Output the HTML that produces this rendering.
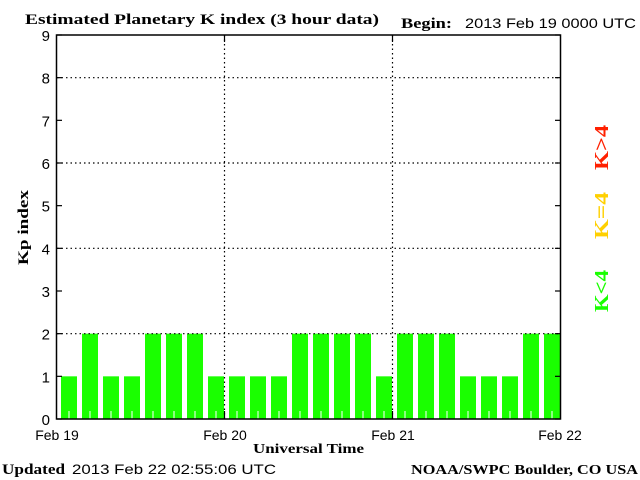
<!DOCTYPE html>
<html><head><style>body{margin:0;background:#fff}svg{display:block}</style></head><body>
<svg width="640" height="480" xmlns="http://www.w3.org/2000/svg">
<rect width="640" height="480" fill="#fff"/>
<text x="25" y="24" font-family="Liberation Serif" font-weight="bold" font-size="15" textLength="354" lengthAdjust="spacingAndGlyphs">Estimated Planetary K index (3 hour data)</text>
<text x="401" y="28" font-family="Liberation Serif" font-weight="bold" font-size="15" textLength="51" lengthAdjust="spacingAndGlyphs">Begin:</text>
<text x="465" y="28" font-family="Liberation Sans" font-size="14" textLength="171" lengthAdjust="spacingAndGlyphs">2013 Feb 19 0000 UTC</text>
<g id="bars" fill="#1aff00"></g>
<g stroke="#000" stroke-width="1.2" stroke-dasharray="1.5,3" fill="none">
<line x1="57" y1="77.7" x2="560" y2="77.7"/><line x1="57" y1="163" x2="560" y2="163"/>
<line x1="57" y1="248.3" x2="560" y2="248.3"/><line x1="57" y1="333.7" x2="560" y2="333.7"/>
<line x1="224.5" y1="35" x2="224.5" y2="419"/><line x1="392.5" y1="35" x2="392.5" y2="419"/>
</g>
<g id="ticks" stroke="#000" stroke-width="1.2"></g>
<rect x="56.5" y="35" width="504" height="384" fill="none" stroke="#000" stroke-width="1.5"/>
<g font-family="Liberation Sans" font-size="15" text-anchor="end" id="yl"></g>
<g font-family="Liberation Sans" font-size="14" text-anchor="middle">
<text x="57" y="440">Feb 19</text><text x="225" y="440">Feb 20</text><text x="393" y="440">Feb 21</text><text x="560" y="440">Feb 22</text></g>
<text x="253" y="453" font-family="Liberation Serif" font-weight="bold" font-size="14" textLength="111" lengthAdjust="spacingAndGlyphs">Universal Time</text>
<text transform="translate(28,265) rotate(-90)" font-family="Liberation Serif" font-weight="bold" font-size="15" textLength="75" lengthAdjust="spacingAndGlyphs">Kp index</text>
<text x="2" y="474" font-family="Liberation Serif" font-weight="bold" font-size="15" textLength="63" lengthAdjust="spacingAndGlyphs">Updated</text>
<text x="72" y="474" font-family="Liberation Sans" font-size="14" textLength="204" lengthAdjust="spacingAndGlyphs">2013 Feb 22 02:55:06 UTC</text>
<text x="411" y="474" font-family="Liberation Serif" font-weight="bold" font-size="14" textLength="227" lengthAdjust="spacingAndGlyphs">NOAA/SWPC Boulder, CO USA</text>
<g font-family="Liberation Serif" font-weight="bold" font-size="20">
<text transform="translate(608,170) rotate(-90)" fill="#ff2000" textLength="45" lengthAdjust="spacingAndGlyphs">K&gt;4</text>
<text transform="translate(608,239) rotate(-90)" fill="#ffd000" textLength="47" lengthAdjust="spacingAndGlyphs">K=4</text>
<text transform="translate(608,312) rotate(-90)" fill="#1aff00" textLength="42" lengthAdjust="spacingAndGlyphs">K&lt;4</text>
</g>
</svg>
<script>
var v=[1,2,1,1,2,2,2,1,1,1,1,2,2,2,2,1,2,2,2,1,1,1,2,2];
var ns="http://www.w3.org/2000/svg",b=document.getElementById('bars'),t=document.getElementById('ticks'),yl=document.getElementById('yl');
function el(p,n,a){var e=document.createElementNS(ns,n);for(var k in a)e.setAttribute(k,a[k]);p.appendChild(e);return e;}
v.forEach(function(k,i){var x=57+i*21+4,h=k*42.667;el(b,'rect',{x:x,y:419-h,width:16,height:h});
el(b,'line',{x1:x+8,y1:411,x2:x+8,y2:419,stroke:'#fff','stroke-width':1});});
for(var i=0;i<=9;i++){var y=419-i*42.667;el(t,'line',{x1:57,y1:y,x2:62,y2:y});el(t,'line',{x1:555,y1:y,x2:560,y2:y});
var tx=el(yl,'text',{x:50,y:y+6});tx.textContent=i;}
[224.5,392.5].forEach(function(x){el(t,'line',{x1:x,y1:411,x2:x,y2:419});el(t,'line',{x1:x,y1:35,x2:x,y2:42});});
</script>
</body></html>
